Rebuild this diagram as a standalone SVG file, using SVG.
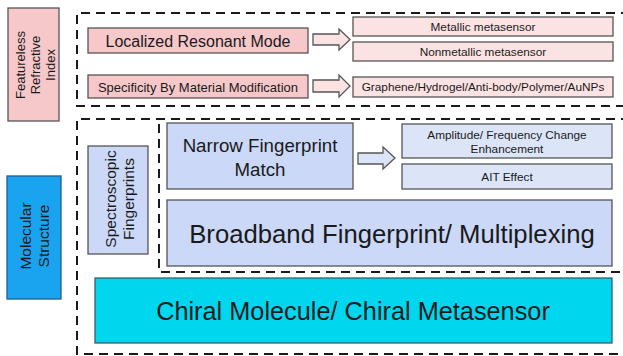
<svg xmlns="http://www.w3.org/2000/svg" width="623" height="356" viewBox="0 0 623 356">
<style>
text{font-family:"Liberation Sans",Arial,sans-serif;fill:#1a1a1a;text-anchor:middle;dominant-baseline:central}
.b{stroke:#555;stroke-width:1.3}
.pk{fill:#f6c8ca}
.pl{fill:#fce3e3}
.bl{fill:#cbd8f7}
.bll{fill:#dce5f8}
.dash{fill:none;stroke:#1a1a1a;stroke-width:2;stroke-dasharray:9,6}
.s{font-size:11.8px}
</style>
<rect width="623" height="356" fill="#fff"/>
<g id="frames">
<path class="dash" d="M630,13 H77 V106 H630"/>
<path class="dash" d="M630,119 H77 V354 H630"/>
<path class="dash" d="M159,124 V272 H630"/>
</g>
<g id="connectors">
<path class="b pl" d="M313,34 H339 V29 L350,39.5 L339,50 V45 H313 Z"/>
<path class="b pl" d="M313,80 H339 V75 L350,86 L339,97 V92 H313 Z"/>
<path class="b bll" d="M358,153 H383 V147 L395,158 L383,169 V164 H358 Z"/>
</g>
<g id="featureless">
<rect class="b pk" x="8" y="8" width="51" height="113"/>
<text transform="translate(34.5,65) rotate(-90)" font-size="13"><tspan x="0" y="-15">Featureless</tspan><tspan x="0" y="0">Refractive</tspan><tspan x="0" y="15">Index</tspan></text>
</g>
<g id="localized">
<rect class="b pk" x="88" y="28" width="220" height="25"/>
<text x="198" y="41" font-size="16">Localized Resonant Mode</text>
</g>
<g id="specificity">
<rect class="b pk" x="88" y="75" width="220" height="23"/>
<text x="198" y="87" font-size="13">Specificity By Material Modification</text>
</g>
<g id="metallic">
<rect class="b pl" x="353" y="17" width="260" height="19"/>
<text class="s" x="483" y="26.5">Metallic metasensor</text>
</g>
<g id="nonmetallic">
<rect class="b pl" x="353" y="42" width="260" height="19"/>
<text class="s" x="483" y="51.5">Nonmetallic metasensor</text>
</g>
<g id="graphene">
<rect class="b pl" x="353" y="77" width="260" height="20"/>
<text class="s" x="483" y="87">Graphene/Hydrogel/Anti-body/Polymer/AuNPs</text>
</g>
<g id="molecular">
<rect x="7" y="176" width="54" height="123" fill="#1aa3ef" stroke="#1f5f8f" stroke-width="1.3"/>
<text transform="translate(34,236) rotate(-90)" font-size="15.5"><tspan x="0" y="-9">Molecular</tspan><tspan x="0" y="9">Structure</tspan></text>
</g>
<g id="spectroscopic">
<rect class="b bl" x="88" y="146" width="60" height="108"/>
<text transform="translate(119,199) rotate(-90)" font-size="15.5"><tspan x="0" y="-9">Spectroscopic</tspan><tspan x="0" y="9">Fingerprints</tspan></text>
</g>
<g id="narrow">
<rect class="b bl" x="167" y="123" width="186" height="66"/>
<text font-size="18.7"><tspan x="260" y="145">Narrow Fingerprint</tspan><tspan x="260" y="169">Match</tspan></text>
</g>
<g id="amplitude">
<rect class="b bll" x="402" y="124" width="210" height="34"/>
<text class="s"><tspan x="507" y="134.5">Amplitude/ Frequency Change</tspan><tspan x="507" y="148.5">Enhancement</tspan></text>
</g>
<g id="ait">
<rect class="b bll" x="402" y="164" width="210" height="25"/>
<text class="s" x="507" y="176.5">AIT Effect</text>
</g>
<g id="broadband">
<rect class="b bl" x="167" y="200" width="445" height="66"/>
<text x="392" y="234" font-size="25.7">Broadband Fingerprint/ Multiplexing</text>
</g>
<g id="chiral">
<rect x="95" y="278" width="517" height="65" fill="#00d6ee" stroke="#3b5f6a" stroke-width="1.3"/>
<text x="353" y="311" font-size="25.3">Chiral Molecule/ Chiral Metasensor</text>
</g>
</svg>
